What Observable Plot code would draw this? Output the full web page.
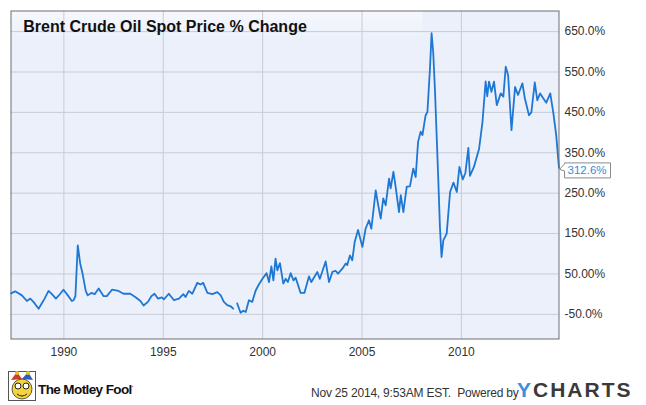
<!DOCTYPE html>
<html>
<head>
<meta charset="utf-8">
<script src="https://cdn.jsdelivr.net/npm/d3@7"></script>
<script src="https://cdn.jsdelivr.net/npm/@observablehq/plot@0.6"></script>
<style>
  html, body { margin: 0; padding: 0; background: #fff; }
  #wrap { position: relative; width: 646px; height: 405px; overflow: hidden; font-family: "Liberation Sans", Arial, sans-serif; }
  #footer { position: absolute; left: 0; top: 362px; width: 646px; height: 43px; }
  .mf { position: absolute; left: 38px; top: 20px; font-size: 13.5px; font-weight: bold; letter-spacing: -0.6px; color: #111; }
  .ts { position: absolute; left: 311px; top: 24px; font-size: 12px; color: #333; letter-spacing: -0.2px; }
  .yc { position: absolute; left: 517px; top: 16px; font-size: 21px; font-weight: bold; color: #3a3a3a; letter-spacing: 2px; white-space: nowrap; }
  .yc span { color: #3d8fdc; }
  #icon { position: absolute; left: 8px; top: 9px; }
</style>
</head>
<body>
<div id="wrap">
  <div id="chart"></div>
  <div id="footer">
    <svg id="icon" width="28" height="30" viewBox="0 0 28 30">
      <rect x="0.5" y="0.5" width="27" height="29" fill="#fff" stroke="#555"/>
      <path d="M3 9 L9 1 L14 8 Z" fill="#d23a2a"/>
      <path d="M14 8 L20 1 L25 9 Z" fill="#2f5fb8"/>
      <circle cx="9" cy="2" r="2" fill="#e8c21c"/>
      <circle cx="20" cy="2" r="2" fill="#e8c21c"/>
      <ellipse cx="14" cy="18" rx="10" ry="10" fill="#f3d43a" stroke="#333" stroke-width="0.8"/>
      <circle cx="10" cy="15" r="3" fill="#fff" stroke="#222" stroke-width="1"/>
      <circle cx="18" cy="15" r="3" fill="#fff" stroke="#222" stroke-width="1"/>
      <path d="M9 23 Q14 27 19 23" fill="none" stroke="#222" stroke-width="1"/>
    </svg>
    <div class="mf">The Motley Fool<span style="font-size:6px;vertical-align:top">.</span></div>
    <div class="ts">Nov 25 2014, 9:53AM EST.&nbsp; Powered by</div>
    <div class="yc"><span>Y</span>CHARTS</div>
  </div>
</div>
<script>
const chartTitle = "Brent Crude Oil Spot Price % Change";
const xTicks = [1990, 1995, 2000, 2005, 2010];
const yTicks = [650, 550, 450, 350, 250, 150, 50, -50];
const yLabels = ["650.0%", "550.0%", "450.0%", "350.0%", "250.0%", "150.0%", "50.00%", "-50.0%"];
const endLabel = "312.6%";

// time (decimal year) and % change values; null marks the data gap
const years = [
  1987.34, 1987.55, 1987.89, 1988.14, 1988.31, 1988.47, 1988.73, 1988.9, 1989.03, 1989.23,
  1989.4, 1989.6, 1989.82, 1989.98, 1990.2, 1990.4, 1990.49, 1990.58, 1990.7, 1990.82,
  1990.94, 1991.1, 1991.2, 1991.38, 1991.55, 1991.75, 1992.0, 1992.16, 1992.42, 1992.75,
  1993.0, 1993.34, 1993.59, 1993.85, 1994.01, 1994.23, 1994.4, 1994.56, 1994.73, 1994.93,
  1995.03, 1995.28, 1995.54, 1995.79, 1996.01, 1996.12, 1996.29, 1996.46, 1996.71, 1996.88,
  1997.01, 1997.22, 1997.47, 1997.72, 1997.89, 1998.05, 1998.22, 1998.39, 1998.52, 1998.62,
  1998.72, 1998.89, 1999.03, 1999.15, 1999.31, 1999.48, 1999.65, 1999.81, 1999.99, 2000.2,
  2000.32, 2000.44, 2000.54, 2000.65, 2000.74, 2000.87, 2001.04, 2001.16, 2001.27, 2001.41,
  2001.55, 2001.66, 2001.91, 2002.1, 2002.33, 2002.45, 2002.75, 2002.88, 2003.17, 2003.34,
  2003.51, 2003.67, 2003.79, 2004.01, 2004.18, 2004.26, 2004.39, 2004.51, 2004.63, 2004.8,
  2005.02, 2005.18, 2005.35, 2005.47, 2005.69, 2005.8, 2005.94, 2006.07, 2006.19, 2006.36,
  2006.44, 2006.58, 2006.69, 2006.86, 2006.95, 2007.08, 2007.25, 2007.41, 2007.58, 2007.7,
  2007.82, 2007.95, 2008.04, 2008.2, 2008.29, 2008.42, 2008.5, 2008.58, 2008.67, 2008.82,
  2008.92, 2009.0, 2009.09, 2009.26, 2009.43, 2009.6, 2009.77, 2009.9, 2010.07, 2010.2,
  2010.35, 2010.43, 2010.63, 2010.89, 2011.06, 2011.22, 2011.3, 2011.39, 2011.51, 2011.64,
  2011.78, 2011.98, 2012.11, 2012.23, 2012.35, 2012.52, 2012.7, 2012.85, 2013.07, 2013.19,
  2013.4, 2013.52, 2013.69, 2013.82, 2013.96, 2014.1, 2014.27, 2014.47, 2014.63, 2014.77,
  2014.91
];
const pctChange = [
  2, 7, -3, -17, -11, -19, -36, -22, -11, 8,
  0, -11, 1, 11, -3, -17, -15, -5, 121, 76,
  51, 8, -3, 3, 0, 14, -5, -5, 11, 8,
  1, 1, -7, -17, -28, -19, -5, 1, -11, -8,
  -13, 1, -15, -11, 0, -7, 8, 1, 28, 24,
  28, 3, 0, 5, -3, -19, -27, -30, -36, null,
  -23, -46, -41, -44, -15, -19, 9, 24, 38, 52,
  30, 69, 34, 88, 59, 77, 26, 38, 30, 52,
  34, 41, 3, 3, 44, 30, 55, 38, 81, 30,
  55, 58, 51, 63, 76, 72, 96, 84, 129, 159,
  117, 162, 183, 162, 257, 224, 187, 237, 220, 286,
  262, 303, 266, 203, 245, 203, 266, 267, 311, 290,
  377, 402, 394, 443, 451, 560, 646, 600, 505, 307,
  166, 92, 133, 150, 253, 276, 253, 315, 284, 300,
  362, 293, 315, 360, 426, 527, 490, 526, 501, 526,
  468, 497, 489, 563, 542, 406, 513, 493, 522, 485,
  443, 450, 524, 480, 497, 486, 474, 497, 447, 393,
  312.6
];

const data = years.map((x, i) => ({x, y: pctChange[i]}));
const last = data[data.length - 1];

const titleBg = (index, scales, values, dims) => {
  const g = d3.create("svg:g");
  const defs = g.append("defs");
  const lg = defs.append("linearGradient").attr("id", "tbg").attr("x1", 0).attr("x2", 0).attr("y1", 0).attr("y2", 1);
  lg.append("stop").attr("offset", "0%").attr("stop-color", "#fff").attr("stop-opacity", 0.55);
  lg.append("stop").attr("offset", "100%").attr("stop-color", "#fff").attr("stop-opacity", 0);
  g.append("rect")
    .attr("x", dims.marginLeft).attr("y", dims.marginTop)
    .attr("width", 412).attr("height", 30)
    .attr("fill", "url(#tbg)");
  return g.node();
};

const endTag = (index, scales) => {
  const px = scales.x(last.x), py = scales.y(last.y);
  const g = d3.create("svg:g");
  const bx = px + 6, bw = 46, bh = 15, by = py - 4.5;
  g.append("path")
    .attr("d", `M${px + 1},${py + 2} L${bx},${by + 1} L${bx},${by} L${bx + bw},${by} L${bx + bw},${by + bh} L${bx},${by + bh} L${bx},${by + 8} Z`)
    .attr("fill", "#fff").attr("stroke", "#8a8a8a").attr("stroke-width", 1);
  g.append("text")
    .attr("x", bx + 3).attr("y", by + bh / 2 + 4)
    .attr("text-anchor", "start")
    .attr("font-size", 11.5).attr("fill", "#3a8ad6")
    .text(endLabel);
  return g.node();
};

const chart = Plot.plot({
  width: 646,
  height: 362,
  marginLeft: 10.5,
  marginRight: 87.5,
  marginTop: 10.5,
  marginBottom: 23.5,
  style: {fontFamily: "Liberation Sans, Arial, sans-serif", fontSize: "12px", background: "#fff", color: "#333"},
  x: {domain: [1987.34, 2014.91], ticks: xTicks, tickFormat: d => String(d)},
  y: {domain: [-111, 701], ticks: yTicks},
  marks: [
    Plot.frame({fill: "#ebf0fa", stroke: "none"}),
    titleBg,
    Plot.gridX(xTicks, {stroke: "#c8ccd4", strokeOpacity: 1}),
    Plot.gridY(yTicks, {stroke: "#c8ccd4", strokeOpacity: 1}),
    Plot.line(data, {x: "x", y: "y", stroke: "#1f77d4", strokeWidth: 1.8, strokeLinejoin: "round"}),
    Plot.axisY(yTicks, {anchor: "right", label: null, tickSize: 0, tickPadding: 5.5, fontSize: 12, fill: "#333",
      tickFormat: d => yLabels[yTicks.indexOf(d)]}),
    Plot.axisX(xTicks, {anchor: "bottom", label: null, tickSize: 0, tickPadding: 8, fontSize: 12, fill: "#333",
      tickFormat: d => String(d)}),
    Plot.frame({stroke: "#6e6e6e", strokeWidth: 1}),
    Plot.text([chartTitle], {frameAnchor: "top-left", dx: 12.2, dy: 9.8, fontSize: 16, fontWeight: "bold", fill: "#111", textAnchor: "start"}),
    endTag
  ]
});
document.getElementById("chart").appendChild(chart);
</script>
</body>
</html>
